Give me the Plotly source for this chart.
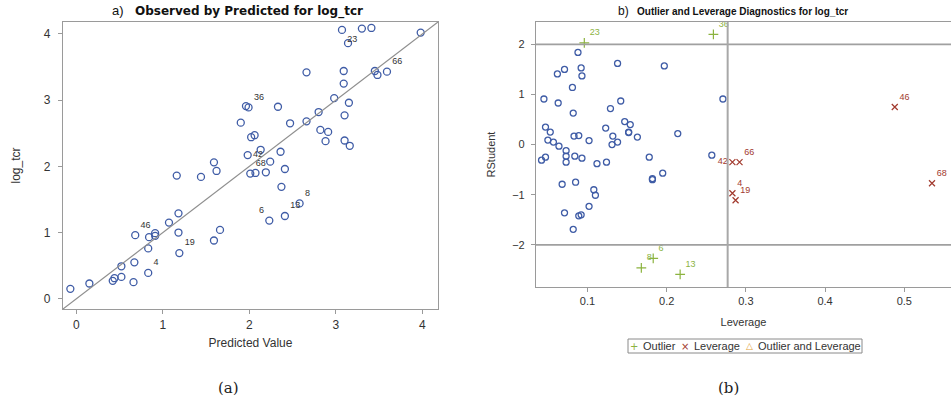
import plotly.graph_objects as go

# ---------------- Panel (a): Observed by Predicted ----------------
pred = [3.07, 3.30, 3.41, 3.98, 3.14, 3.45, 3.48, 3.59, 3.09, 2.66,
        3.09, 2.98, 3.15, 2.80, 3.10, 2.66, 2.47, 2.82, 2.91, 2.88,
        3.10, 3.16, 1.96, 1.99, 2.33, 1.90, 2.06, 2.02, 2.13, 2.36,
        1.98, 2.24, 1.59, 2.41, 1.62, 2.01, 2.07, 2.19, 1.16, 1.44,
        2.37, 2.58, 2.41, 2.23, 1.18, 1.07, 0.68, 0.91, 0.84, 0.91,
        1.18, 1.66, 1.59, 0.83, 1.19, 0.67, 0.52, 0.83, 0.52, 0.44,
        0.42, 0.66, 0.15, -0.07]
obs = [4.06, 4.08, 4.09, 4.02, 3.86, 3.44, 3.38, 3.43, 3.44, 3.42,
       3.25, 3.03, 2.96, 2.82, 2.77, 2.68, 2.65, 2.55, 2.52, 2.38,
       2.39, 2.31, 2.91, 2.89, 2.90, 2.66, 2.47, 2.44, 2.25, 2.22,
       2.17, 2.07, 2.06, 1.96, 1.93, 1.89, 1.90, 1.91, 1.86, 1.84,
       1.69, 1.44, 1.25, 1.18, 1.29, 1.15, 0.96, 0.99, 0.93, 0.95,
       1.00, 1.04, 0.88, 0.76, 0.69, 0.55, 0.49, 0.39, 0.33, 0.31,
       0.27, 0.25, 0.23, 0.15]
obs_labels = ["23", "", "", "", "", "", "", "66", "", "",
              "", "", "", "", "", "", "", "", "", "",
              "", "", "", "36", "", "", "", "", "", "",
              "42", "", "", "", "", "68", "", "", "", "",
              "", "8", "13", "6", "", "", "46", "", "", "",
              "", "", "", "", "19", "", "", "4", "", "",
              "", "", "", ""]
label_pos_a = {"23": "bottom right", "42": "middle right", "6": "top left"}

# ---------------- Panel (b): Outlier and Leverage Diagnostics ----------------
lev_normal = [0.088, 0.138, 0.197, 0.071, 0.092, 0.062, 0.093, 0.081, 0.045, 0.271,
              0.063, 0.142, 0.129, 0.082, 0.147, 0.154, 0.047, 0.053, 0.123, 0.152,
              0.152, 0.214, 0.083, 0.089, 0.132, 0.163, 0.050, 0.057, 0.102, 0.064,
              0.131, 0.138, 0.073, 0.042, 0.047, 0.073, 0.073, 0.084, 0.093, 0.112,
              0.124, 0.178, 0.257, 0.195, 0.182, 0.182, 0.068, 0.085, 0.108, 0.110,
              0.102, 0.071, 0.089, 0.092, 0.082]
rs_normal = [1.84, 1.62, 1.57, 1.50, 1.53, 1.41, 1.37, 1.14, 0.91, 0.91,
             0.83, 0.87, 0.72, 0.63, 0.46, 0.40, 0.35, 0.25, 0.33, 0.25,
             0.24, 0.22, 0.17, 0.18, 0.17, 0.15, 0.09, 0.05, 0.08, -0.03,
             0.00, 0.05, -0.12, -0.31, -0.25, -0.23, -0.35, -0.23, -0.27, -0.38,
             -0.35, -0.25, -0.21, -0.57, -0.70, -0.68, -0.79, -0.75, -0.90, -1.01,
             -1.23, -1.36, -1.42, -1.40, -1.69]

lev_outlier = [0.096, 0.259, 0.168, 0.183, 0.217]
rs_outlier = [2.03, 2.20, -2.46, -2.27, -2.59]
outlier_labels = ["23", "36", "8", "6", "13"]

lev_leverage = [0.283, 0.292, 0.488, 0.535, 0.283, 0.287]
rs_leverage = [-0.35, -0.35, 0.75, -0.77, -0.97, -1.11]
leverage_labels = ["42", "66", "46", "68", "4", "19"]
label_pos_b = {"42": "middle left"}

rs_cutoff = [-2, 2]
lev_cutoff = 0.277

legend_names = ["Outlier", "Leverage", "Outlier and Leverage"]
legend_glyphs = ["+", "×", "△"]

BLUE = "#3f5ca6"
GREEN = "#8cb33f"
RED = "#a23a2e"
ORANGE = "#e3a23a"
FRAME = "#9a9a9a"
TXT = "#333333"
FONT = "Liberation Sans, Arial"

fig = go.Figure()

# panel (a)
fig.add_trace(go.Scatter(
    x=pred, y=obs, mode="markers+text", text=obs_labels,
    textposition=[label_pos_a.get(t, "top right") for t in obs_labels],
    textfont=dict(family=FONT, size=9, color=TXT),
    marker=dict(symbol="circle-open", size=7, color=BLUE, line=dict(width=1.3, color=BLUE)),
    showlegend=False, xaxis="x", yaxis="y", cliponaxis=False))

# panel (b)
fig.add_trace(go.Scatter(
    x=lev_normal, y=rs_normal, mode="markers",
    marker=dict(symbol="circle-open", size=6, color=BLUE, line=dict(width=1.3, color=BLUE)),
    showlegend=False, xaxis="x2", yaxis="y2"))
fig.add_trace(go.Scatter(
    x=lev_outlier, y=rs_outlier, mode="markers+text", text=outlier_labels,
    textposition="top right", name=legend_names[0], showlegend=False,
    textfont=dict(family=FONT, size=9, color=GREEN),
    marker=dict(symbol="cross-thin-open", size=7, color=GREEN, line=dict(width=1.2, color=GREEN)),
    xaxis="x2", yaxis="y2", cliponaxis=False))
fig.add_trace(go.Scatter(
    x=lev_leverage, y=rs_leverage, mode="markers+text", text=leverage_labels,
    textposition=[label_pos_b.get(t, "top right") for t in leverage_labels],
    name=legend_names[1], showlegend=False,
    textfont=dict(family=FONT, size=9, color=RED),
    marker=dict(symbol="x-thin-open", size=6, color=RED, line=dict(width=1.2, color=RED)),
    xaxis="x2", yaxis="y2", cliponaxis=False))

axis_common = dict(showline=True, mirror=True, linecolor=FRAME, linewidth=1.2,
                   ticks="outside", ticklen=4, tickcolor=FRAME, showgrid=False,
                   zeroline=False, tickfont=dict(family=FONT, size=12, color=TXT))
small_ticks = dict(family=FONT, size=11, color=TXT)

xr = [-0.155, 4.18]
fig.update_layout(
    width=951, height=412, margin=dict(l=0, r=0, t=0, b=0),
    paper_bgcolor="white", plot_bgcolor="white", showlegend=False,
    xaxis=dict(domain=[63/951, 438/951], range=xr, tickvals=[0, 1, 2, 3, 4],
               title=dict(text="Predicted Value", standoff=8,
                          font=dict(family=FONT, size=12, color=TXT)),
               anchor="y", **axis_common),
    yaxis=dict(domain=[1 - 309/412, 1 - 22/412], range=xr, tickvals=[0, 1, 2, 3, 4],
               ticklabelstandoff=5,
               title=dict(text="log_tcr", standoff=20,
                          font=dict(family=FONT, size=12, color=TXT)),
               anchor="x", **axis_common),
    xaxis2=dict(domain=[536/951, 1.0], range=[0.035, 0.559], tickvals=[0.1, 0.2, 0.3, 0.4, 0.5],
                title=dict(text="Leverage", standoff=12,
                           font=dict(family=FONT, size=11, color=TXT)),
                anchor="y2", **{**axis_common, "tickfont": small_ticks}),
    yaxis2=dict(domain=[1 - 287/412, 1 - 22/412], range=[-2.84, 2.446], tickvals=[-2, -1, 0, 1, 2],
                ticklabelstandoff=4,
                title=dict(text="RStudent", standoff=14,
                           font=dict(family=FONT, size=11, color=TXT)),
                anchor="x2", **{**axis_common, "tickfont": small_ticks}),
)

# reference lines
fig.add_shape(type="line", xref="x", yref="y", x0=xr[0], y0=xr[0], x1=xr[1], y1=xr[1],
              line=dict(color="#8f8f8f", width=1.2))
for v in rs_cutoff:
    fig.add_shape(type="line", xref="x2 domain", yref="y2", x0=0, x1=1, y0=v, y1=v,
                  line=dict(color="#a0a0a0", width=1.6))
fig.add_shape(type="line", xref="x2", yref="y2 domain", x0=lev_cutoff, x1=lev_cutoff, y0=0, y1=1,
              line=dict(color="#a8a8a8", width=2))

# legend box (drawn)
fig.add_shape(type="rect", xref="paper", yref="paper",
              x0=628/951, x1=862/951, y0=1 - 353/412, y1=1 - 339/412,
              line=dict(color="#8a8a8a", width=1), fillcolor="white")
legend_colors = [GREEN, RED, ORANGE]
glyph_x = [634, 685, 749]
for name, glyph, col, gx in zip(legend_names, legend_glyphs, legend_colors, glyph_x):
    fig.add_annotation(x=gx/951, y=1 - 346/412, xref="paper", yref="paper", showarrow=False,
                       xanchor="center", yanchor="middle", text=glyph,
                       font=dict(family="DejaVu Sans", size=10 if glyph != "△" else 9, color=col))
    fig.add_annotation(x=(gx + 7)/951, y=1 - 346/412, xref="paper", yref="paper", showarrow=False,
                       xanchor="left", yanchor="middle", text=name,
                       font=dict(family=FONT, size=11, color=TXT))

# titles
fig.add_annotation(x=237/951, y=1 - 11/412, xref="paper", yref="paper", showarrow=False,
                   xanchor="center", yanchor="middle",
                   text="<span style='font-size:13px;font-family:Liberation Sans'>a)</span>&nbsp;&nbsp;&nbsp;<b>Observed by Predicted for log_tcr</b>",
                   font=dict(family="DejaVu Sans", size=12, color="#111111"))
fig.add_annotation(x=733/951, y=1 - 11/412, xref="paper", yref="paper", showarrow=False,
                   xanchor="center", yanchor="middle",
                   text="<span style='font-size:12px'>b)</span>&nbsp;&nbsp;&nbsp;<b>Outlier and Leverage Diagnostics for log_tcr</b>",
                   font=dict(family=FONT, size=10, color="#111111"))

# captions
fig.add_annotation(x=228/951, y=1 - 388/412, xref="paper", yref="paper", showarrow=False,
                   xanchor="center", yanchor="middle",
                   text="(a)", font=dict(family="DejaVu Serif, Liberation Serif", size=15, color="#222222"))
fig.add_annotation(x=728/951, y=1 - 388/412, xref="paper", yref="paper", showarrow=False,
                   xanchor="center", yanchor="middle",
                   text="(b)", font=dict(family="DejaVu Serif, Liberation Serif", size=15, color="#222222"))

fig.write_html("out.html")
